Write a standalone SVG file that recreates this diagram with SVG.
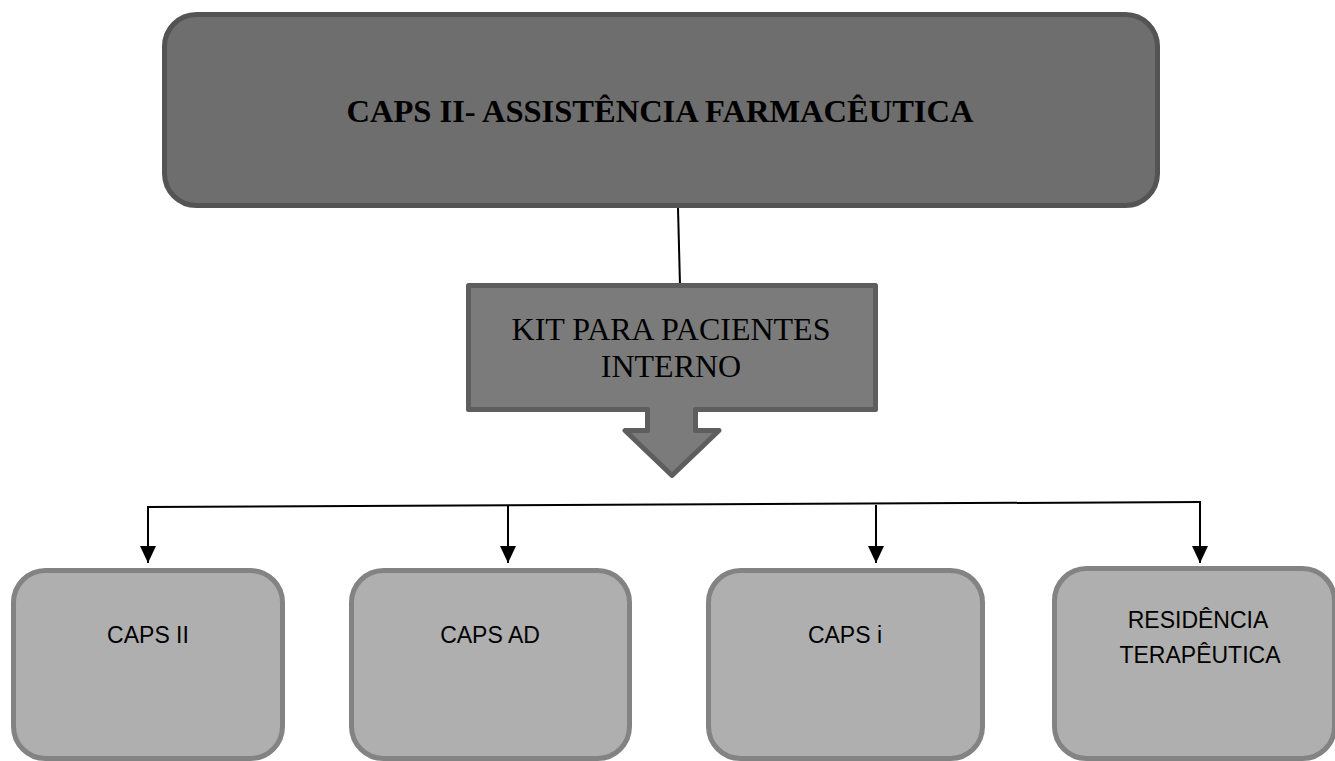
<svg xmlns="http://www.w3.org/2000/svg" width="1335" height="761" viewBox="0 0 1335 761">
<style>
.title{font-family:"Liberation Serif","Times New Roman",serif;font-weight:bold;font-size:32.5px;fill:#000;text-anchor:middle}
.kit{font-family:"Liberation Serif","Times New Roman",serif;font-size:32px;fill:#000;text-anchor:middle}
.lbl{font-family:"Liberation Sans",Arial,sans-serif;font-size:23px;fill:#000;text-anchor:middle}
.box{fill:#afafaf;stroke:#838383;stroke-width:5}
.conn{stroke:#000;stroke-width:2;fill:none}
</style>
<defs>
<marker id="ah" markerUnits="userSpaceOnUse" markerWidth="17" markerHeight="16" refX="17" refY="8" orient="auto" viewBox="0 0 17 16">
<path d="M0,0 L17,8 L0,16 Z" fill="#000"/>
</marker>
</defs>
<rect width="1335" height="761" fill="#fff"/>
<g id="connectors">
<line class="conn" x1="678" y1="208" x2="680" y2="285"/>
<line class="conn" x1="147" y1="507" x2="1201" y2="502"/>
<line class="conn" x1="148" y1="506" x2="148" y2="563" marker-end="url(#ah)"/>
<line class="conn" x1="508" y1="506" x2="508" y2="563" marker-end="url(#ah)"/>
<line class="conn" x1="876" y1="505" x2="876" y2="563" marker-end="url(#ah)"/>
<line class="conn" x1="1200" y1="501" x2="1200" y2="563" marker-end="url(#ah)"/>
</g>
<g id="top">
<rect x="164.5" y="14.5" width="993" height="191" rx="32" ry="32" fill="#6e6e6e" stroke="#545454" stroke-width="5"/>
<text class="title" x="660" y="122">CAPS II- ASSISTÊNCIA FARMACÊUTICA</text>
</g>
<g id="kit">
<path d="M468.5,285.5 H875.5 V409.5 H695.5 V430.5 H719 L672,475.5 L625,430.5 H647.5 V409.5 H468.5 Z" fill="#7b7b7b" stroke="#5e5e5e" stroke-width="5" stroke-linejoin="round"/>
<text class="kit" x="671" y="340">KIT PARA PACIENTES</text>
<text class="kit" x="671" y="377">INTERNO</text>
</g>
<g id="caps2">
<rect class="box" x="13.5" y="570.5" width="269" height="188" rx="32"/>
<text class="lbl" x="148" y="643">CAPS II</text>
</g>
<g id="capsad">
<rect class="box" x="351.5" y="570.5" width="278" height="188" rx="32"/>
<text class="lbl" x="490" y="643">CAPS AD</text>
</g>
<g id="capsi">
<rect class="box" x="708.5" y="570.5" width="274" height="188" rx="32"/>
<text class="lbl" x="845" y="643">CAPS i</text>
</g>
<g id="residencia">
<rect class="box" x="1054.5" y="568.5" width="280" height="190" rx="32"/>
<text class="lbl" x="1198" y="628">RESIDÊNCIA</text>
<text class="lbl" x="1200" y="663">TERAPÊUTICA</text>
</g>
</svg>
